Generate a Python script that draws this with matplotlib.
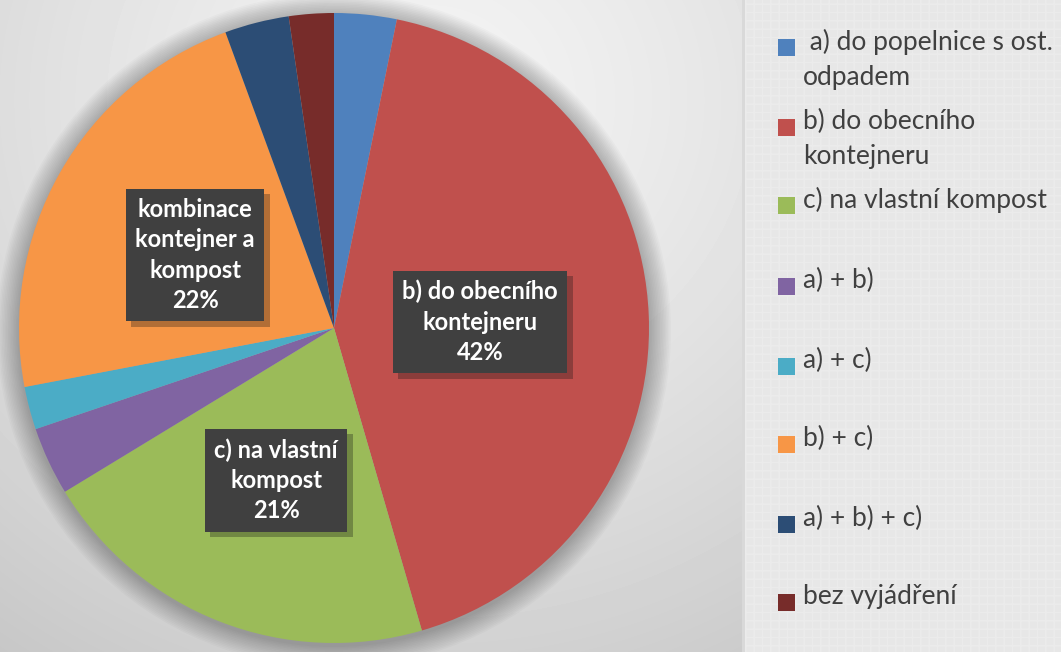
import numpy as np
import matplotlib
matplotlib.use("Agg")
import matplotlib.pyplot as plt
from matplotlib.patches import Rectangle, Circle
import matplotlib.patheffects as pe

plt.rcParams['font.family'] = ['Lato', 'DejaVu Sans']

# data
legend_labels = [' a) do popelnice s ost.\nodpadem', 'b) do obecního\nkontejneru',
                 'c) na vlastní kompost', 'a) + b)', 'a) + c)', 'b) + c)',
                 'a) + b) + c)', 'bez vyjádření']
shares = [3.2, 42.3, 20.8, 3.5, 2.2, 22.4, 3.3, 2.3]
colors = ['#4f81bd', '#c0504d', '#9bbb59', '#8064a2', '#4bacc6', '#f79646',
          '#2c4d75', '#772c2a']
# data labels shown only for the big slices: index -> label text
box_text = {1: 'b) do obecního\nkontejneru', 2: 'c) na vlastní\nkompost',
            5: 'kombinace\nkontejner a\nkompost'}
box_pos = {1: (0.463, 0.019), 2: (-0.184, -0.483), 5: (-0.441, 0.232)}

W, H = 1061, 652
fig = plt.figure(figsize=(W / 100, H / 100), dpi=100)

# background radial gradient
bg = fig.add_axes([0, 0, 1, 1])
yy, xx = np.mgrid[0:H, 0:W]
d = np.hypot((xx - 430) / 700, (yy - 100) / 650)
shade = 0.955 - 0.165 * np.clip(d, 0, 1.3) ** 1.3
bg.imshow(shade, cmap='gray', vmin=0, vmax=1, extent=[0, W, H, 0], aspect='auto')
# legend panel
bg.add_patch(Rectangle((745, 0), W - 745, H, facecolor='#e7e7e7', edgecolor='none'))
bg.add_patch(Rectangle((745, 0), W - 745, H, facecolor='none', edgecolor='#f2f2f2',
                       hatch='++', linewidth=0, alpha=0.45))
bg.add_patch(Rectangle((742, 0), 3, H, facecolor='#d9d9d9', edgecolor='none'))
bg.set_xlim(0, W)
bg.set_ylim(H, 0)
bg.axis('off')

# pie
cx, cy, r = 334, 328, 315
m = 1.15
ax = fig.add_axes([(cx - m * r) / W, (H - cy - m * r) / H, 2 * m * r / W, 2 * m * r / H])
for k in range(14):
    ax.add_patch(Circle((0.0, -0.008), 1.0 + 0.005 * (14 - k), facecolor='black',
                        alpha=0.018, edgecolor='none', zorder=0))
wedges, _ = ax.pie(shares, colors=colors, startangle=90, counterclock=False,
                   radius=1.0, wedgeprops=dict(linewidth=0))
total = sum(shares)
for i, txt in box_text.items():
    pct = round(shares[i] / total * 100)
    x, y = box_pos[i]
    t = ax.text(x, y, txt + '\n%d%%' % pct, ha='center', va='center', color='white',
                fontsize=17, fontweight='bold', linespacing=1.38,
                bbox=dict(boxstyle='square,pad=0.4', facecolor='#404040',
                          edgecolor='none'))
    t.get_bbox_patch().set_path_effects(
        [pe.SimplePatchShadow(offset=(4, -4), alpha=0.3), pe.Normal()])
ax.set_xlim(-m, m)
ax.set_ylim(-m, m)
ax.set_aspect('equal')
ax.axis('off')

# legend
row_y = [47, 127, 205, 286, 366, 444, 524, 602]
for lab, col, y in zip(legend_labels, colors, row_y):
    bg.add_patch(Rectangle((778, y - 8), 17, 17, facecolor=col, edgecolor='none'))
    bg.text(803, y - 18, lab, ha='left', va='top', fontsize=19, color='#404040',
            linespacing=1.5)

fig.savefig('out.png', dpi=100)
